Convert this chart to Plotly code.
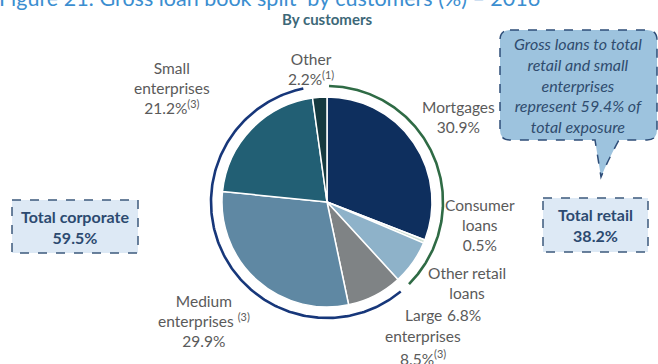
import numpy as np
import plotly.graph_objects as go

W, H = 658, 364

# ---- data -------------------------------------------------------------
categories = ["Mortgages", "Consumer loans", "Other retail loans",
              "Large enterprises", "Medium enterprises", "Small enterprises", "Other"]
shares = [30.9, 0.5, 6.8, 8.5, 29.9, 21.2, 2.2]
slice_colors = ["#0e2f5e", "#cfe0d4", "#8eb2c9", "#7f8385", "#5f88a3", "#225f74", "#15393f"]

label_names = ["Mortgages", "Consumer<br>loans", "Other retail<br>loans",
               "Large<br>enterprises", "Medium<br>enterprises", "Small<br>enterprises", "Other"]
label_notes = ["", "", "", "(3)", "(3)", "(3)", "(1)"]

segment_names = ["Total retail", "Total corporate"]
segment_totals = [38.2, 59.5]
segment_colors = ["#2f6b45", "#17377a"]

title_text = "Figure 21: Gross loan book split  by customers (%) \u2013 2016"
subtitle_text = "By customers"
callout_lines = ["Gross loans to total", "retail and small", "enterprises",
                 "represent 59.4% of", "total exposure"]

# ---- layout geometry (pixels) ----------------------------------------
cx, cy, r = 327, 202, 105
arc_r = 116
FONT = "Lato, Open Sans, sans-serif"
GREY = "#5a5a5a"
LBL = 15.5
LINE = 21  # label line spacing in px

fig = go.Figure()

fig.add_trace(go.Pie(
    labels=categories, values=shares, sort=False, direction="clockwise",
    rotation=0, textinfo="none", hoverinfo="label+percent",
    marker=dict(colors=slice_colors, line=dict(color="white", width=1.5)),
    domain=dict(x=[(cx - r) / W, (cx + r) / W], y=[1 - (cy + r) / H, 1 - (cy - r) / H]),
    showlegend=False,
))

# outer arcs grouping retail and corporate slices
starts = [1.0, segment_totals[0] * 3.6 + 3.0]
ends = [segment_totals[0] * 3.6 - 2.5, (segment_totals[0] + segment_totals[1]) * 3.6 - 3.5]
for a0, a1, col in zip(starts, ends, segment_colors):
    ang = np.radians(np.linspace(a0, a1, 200))
    fig.add_trace(go.Scatter(
        x=cx + arc_r * np.sin(ang), y=cy - arc_r * np.cos(ang),
        mode="lines", line=dict(color=col, width=2.6), hoverinfo="skip",
        showlegend=False, xaxis="x", yaxis="y",
    ))

fig.update_layout(
    width=W, height=H, margin=dict(l=0, r=0, t=0, b=0),
    paper_bgcolor="white", plot_bgcolor="white",
    xaxis=dict(range=[0, W], visible=False, fixedrange=True),
    yaxis=dict(range=[H, 0], visible=False, fixedrange=True),
)

def note(txt, x, y, size=LBL, color=GREY, **kw):
    fig.add_annotation(x=x, y=y, xref="x", yref="y", text=txt, showarrow=False,
                       font=dict(family=FONT, size=size, color=color), **kw)

# title (cropped at top edge) and subtitle
fig.add_annotation(x=0, y=1, xref="paper", yref="paper", xanchor="left", yanchor="middle",
                   xshift=-3, yshift=2, text=title_text, showarrow=False,
                   font=dict(family=FONT, size=21.5, color="#3b8ed0"))
note("<b>" + subtitle_text + "</b>", 327, 19, size=15, color="#3d6878")

# slice labels
pos = {
    "Mortgages": (458, 117),
    "Consumer loans": (480, 225),
    "Other retail loans": (467, 283),
    "Large enterprises": (423, 336),
    "Medium enterprises": (204, 321),
    "Small enterprises": (172, 88),
    "Other": (311, 69),
}
for cat, name, val, sup in zip(categories, label_names, shares, label_notes):
    x, y = pos[cat]
    sup_txt = f"<sup>{sup}</sup>" if sup else ""
    if cat == "Medium enterprises":
        note(name + " " + sup_txt + f"<br>{val:.1f}%", x, y)
    elif cat == "Other retail loans":
        # value sits on the same line as the first word of the next label
        note(name, x, y)
        note(f"{val:.1f}%", 464, y + 1.5 * LINE)
    elif cat == "Large enterprises":
        # one annotation per line so the lines stay narrow beside "6.8%"
        lines = name.split("<br>") + [f"{val:.1f}%" + sup_txt]
        for i, ln in enumerate(lines):
            note(ln, x, y + (i - 1) * LINE)
    else:
        note(name + f"<br>{val:.1f}%" + sup_txt, x, y)

# segment total boxes
boxes = {"Total corporate": (12, 200, 138, 253), "Total retail": (543, 198, 648, 252)}
for name, tot in zip(segment_names, segment_totals):
    x0, y0, x1, y1 = boxes[name]
    fig.add_shape(type="rect", xref="x", yref="y", x0=x0, y0=y0, x1=x1, y1=y1,
                  fillcolor="#dde9f5", line=dict(color="#3d5a7c", width=1.5, dash="dash"),
                  layer="below")
    note(f"<b>{name}<br>{tot:.1f}%</b>", (x0 + x1) / 2, (y0 + y1) / 2, size=16, color="#2c4a70")

# callout bubble
bx0, by0, bx1, by1, cr = 500, 30, 657, 140, 10
path = (f"M {bx0+cr},{by0} L {bx1-cr},{by0} Q {bx1},{by0} {bx1},{by0+cr} "
        f"L {bx1},{by1-cr} Q {bx1},{by1} {bx1-cr},{by1} L 619,{by1} "
        f"Q 608,160 601,177 L 595,{by1} L {bx0+cr},{by1} Q {bx0},{by1} {bx0},{by1-cr} "
        f"L {bx0},{by0+cr} Q {bx0},{by0} {bx0+cr},{by0} Z")
fig.add_shape(type="path", path=path, xref="x", yref="y", fillcolor="#9dc3de",
              line=dict(color="#2e4d78", width=1.5, dash="dash"), layer="below")
note("<i>" + "<br>".join(callout_lines) + "</i>", 578, 85, size=16, color="#2f4c6e")

fig.write_html("out.html")
